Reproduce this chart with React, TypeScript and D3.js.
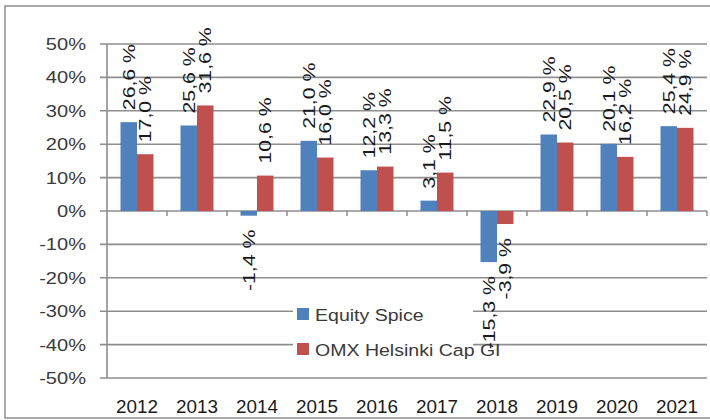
import React from 'react';
import * as d3 from 'd3';

const years = ['2012', '2013', '2014', '2015', '2016', '2017', '2018', '2019', '2020', '2021'];
const equitySpice = [26.6, 25.6, -1.4, 21.0, 12.2, 3.1, -15.3, 22.9, 20.1, 25.4];
const omxHelsinki = [17.0, 31.6, 10.6, 16.0, 13.3, 11.5, -3.9, 20.5, 16.2, 24.9];
const seriesNames = ['Equity Spice', 'OMX Helsinki Cap GI'];
const seriesColors = ['#4f81bd', '#c0504d'];
const yTicks = [50, 40, 30, 20, 10, 0, -10, -20, -30, -40, -50];

const width = 710;
const height = 420;
const plotLeft = 107;
const plotRight = 707;
const plotTop = 44;
const plotBottom = 378;
const font = '"Liberation Sans", Arial, sans-serif';
const gridColor = '#8e8e8e';

const fmt = (v: number) => v.toFixed(1).replace('.', ',') + ' %';

const App: React.FC = () => {
  const x = d3.scaleBand<string>().domain(years).range([plotLeft, plotRight]).padding(0);
  const xs = d3.scaleBand<number>().domain([0, 1]).range([0, x.bandwidth()]).paddingInner(0).paddingOuter(0.82);
  const y = d3.scaleLinear().domain([-50, 50]).range([plotBottom, plotTop]);
  const zeroY = y(0);

  const series = [equitySpice, omxHelsinki];

  return (
    <svg width={width} height={height} style={{ position: 'absolute', left: 0, top: 0, background: '#fff' }}>
      {/* outer chart frame */}
      <rect x={5} y={6} width={740} height={412} fill="#fff" stroke={gridColor} strokeWidth={1.5} />

      {/* gridlines + y labels */}
      {yTicks.map(t => (
        <g key={t}>
          <line x1={plotLeft - 7} x2={plotRight} y1={y(t)} y2={y(t)} stroke={gridColor} strokeWidth={1.6} />
          <g transform={`translate(86,${y(t) + 6}) scale(1.18,1)`}>
            <text textAnchor="end" fontFamily={font} fontSize={17} fill="#3a3a3a">{t}%</text>
          </g>
        </g>
      ))}
      <line x1={plotLeft} x2={plotLeft} y1={plotTop} y2={plotBottom} stroke={gridColor} strokeWidth={1.6} />

      {/* category ticks on zero line */}
      {years.map(yr => (
        <line key={'t' + yr} x1={(x(yr) || 0) + x.bandwidth()} x2={(x(yr) || 0) + x.bandwidth()}
          y1={zeroY} y2={zeroY + 5} stroke={gridColor} strokeWidth={1.5} />
      ))}

      {/* bars */}
      {series.map((vals, si) => vals.map((v, i) => {
        const bx = (x(years[i]) || 0) + (xs(si) || 0);
        const top = y(Math.max(0, v));
        const h = Math.abs(y(v) - zeroY);
        return <rect key={`b${si}-${i}`} x={bx} y={top} width={xs.bandwidth()} height={h} fill={seriesColors[si]} />;
      }))}

      {/* legend */}
      <rect x={293} y={300} width={180} height={62} fill="#fff" />
      {seriesNames.map((n, i) => (
        <g key={n}>
          <rect x={297} y={308 + i * 35} width={12} height={12} fill={seriesColors[i]} />
          <g transform={`translate(315,${321 + i * 35}) scale(1.15,1)`}>
            <text fontFamily={font} fontSize={17} fill="#3a3a3a">{n}</text>
          </g>
        </g>
      ))}

      {/* data labels, rotated */}
      {series.map((vals, si) => vals.map((v, i) => {
        const cx = (x(years[i]) || 0) + (xs(si) || 0) + xs.bandwidth() / 2;
        const pos = v >= 0;
        const ly = pos ? y(v) - 12 : y(v) + 14;
        return (
          <g key={`l${si}-${i}`} transform={`translate(${cx + 6},${ly}) rotate(-90) scale(1.25,1)`}>
            <text textAnchor={pos ? 'start' : 'end'} fontFamily={font} fontSize={17} fill="#1a1a1a">{fmt(v)}</text>
          </g>
        );
      }))}

      {/* year labels */}
      {years.map(yr => (
        <g key={'y' + yr} transform={`translate(${(x(yr) || 0) + x.bandwidth() / 2},413) scale(1.05,1)`}>
          <text textAnchor="middle" fontFamily={font} fontSize={18} fill="#1a1a1a">{yr}</text>
        </g>
      ))}
    </svg>
  );
};

export default App;
